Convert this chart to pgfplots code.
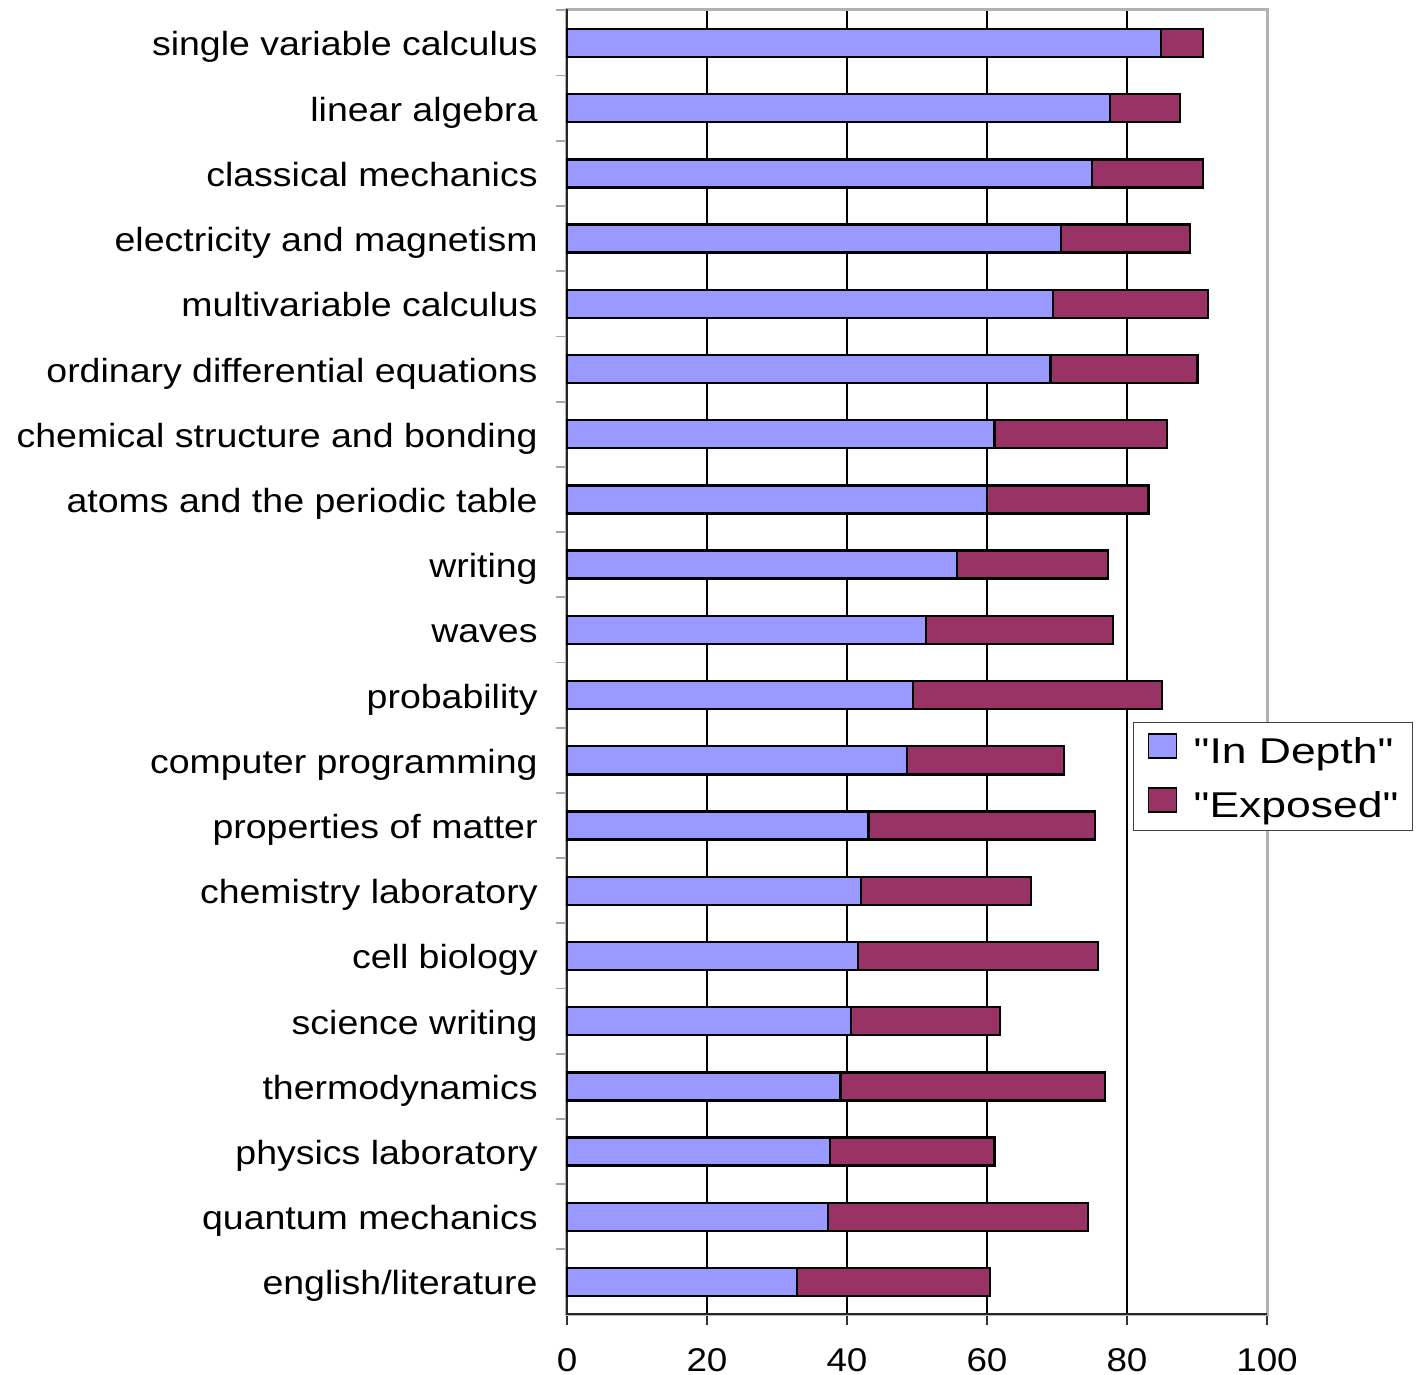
\documentclass[border=0pt]{standalone}
\usepackage{pgfplots}
\pgfplotsset{compat=1.18}
\usepackage{pgfplotstable}
\usepackage{fontspec}
\setmainfont[FakeStretch=1.12]{Liberation Sans}
\newfontfamily\legendfont[FakeStretch=1.24]{Liberation Sans}

\definecolor{indepth}{HTML}{9999FF}
\definecolor{exposed}{HTML}{993366}

% share of students (percent) who covered each topic in depth / were exposed to it
\pgfplotstableread[col sep=comma]{
idx,topic,depth,exposed
0,single variable calculus,84.9,6.0
1,linear algebra,77.6,10.0
2,classical mechanics,75.0,15.9
3,electricity and magnetism,70.6,18.4
4,multivariable calculus,69.4,22.2
5,ordinary differential equations,69.1,21.0
6,chemical structure and bonding,61.1,24.6
7,atoms and the periodic table,60.0,23.1
8,writing,55.7,21.6
9,waves,51.3,26.7
10,probability,49.4,35.6
11,computer programming,48.6,22.4
12,properties of matter,43.1,32.3
13,chemistry laboratory,42.0,24.3
14,cell biology,41.6,34.3
15,science writing,40.6,21.3
16,thermodynamics,39.1,37.8
17,physics laboratory,37.6,23.5
18,quantum mechanics,37.3,37.1
19,english/literature,32.9,27.5
}\coursedata

\begin{document}
\begin{tikzpicture}
\begin{axis}[
  at={(0,0)}, anchor=south west,
  scale only axis, width=350bp, height=652.5bp,
  xbar stacked, bar width=0.43,
  y dir=reverse,
  xmin=0, xmax=100, ymin=-0.521, ymax=19.491,
  clip=false,
  xtick={0,20,...,100},
  ytick={0,...,19},
  yticklabels from table={\coursedata}{topic},
  minor ytick={-0.5,0.5,...,19.5},
  xtick pos=bottom, ytick pos=left,
  tick align=outside,
  major tick length=5.5bp,
  minor tick length=5.5bp,
  major y tick style={draw=none},
  minor y tick style={draw=gray!70, line width=0.9bp},
  major x tick style={draw=black!80, line width=0.7bp},
  xmajorgrids,
  major x grid style={black, line width=0.55bp},
  axis line style={gray!60, line width=1.5bp},
  /pgf/number format/assume math mode=true,
  yticklabel style={anchor=base east, inner sep=0pt, xshift=-9bp, yshift=-6.5bp,
    font=\fontsize{16.8}{20}\selectfont},
  xticklabel style={anchor=base, inner sep=0pt, yshift=-23bp,
    font=\fontsize{16.5}{20}\selectfont},
  legend style={at={(0.8086,0.4536)}, anchor=north west,
    draw=black!75, line width=0.7bp, fill=white,
    font=\legendfont\fontsize{18}{22}\selectfont,
    inner xsep=7bp, inner ysep=3bp, row sep=6bp, column sep=0pt,
    nodes={inner sep=0pt, text height=17.5bp, text depth=3.5bp}},
  legend cell align=left,
  legend image code/.code={%
    \draw[#1, line width=0.8bp] (0bp,-4.25bp) rectangle (14bp,7.75bp);
    \path (22bp,0bp);},
]
\addplot[fill=indepth, draw=black, line width=1.2bp] table[x=depth, y=idx] {\coursedata};
\addplot[fill=exposed, draw=black, line width=1.2bp] table[x=exposed, y=idx] {\coursedata};
\legend{"In Depth", "Exposed"}
\draw[black!85, line width=1.1bp] (axis cs:0,-0.521) -- (axis cs:0,19.491) -- (axis cs:100,19.491);
\end{axis}
\pgfresetboundingbox
\path[use as bounding box] (-283.5bp,-30.5bp) rectangle (426.5bp,657bp);
\end{tikzpicture}
\end{document}
